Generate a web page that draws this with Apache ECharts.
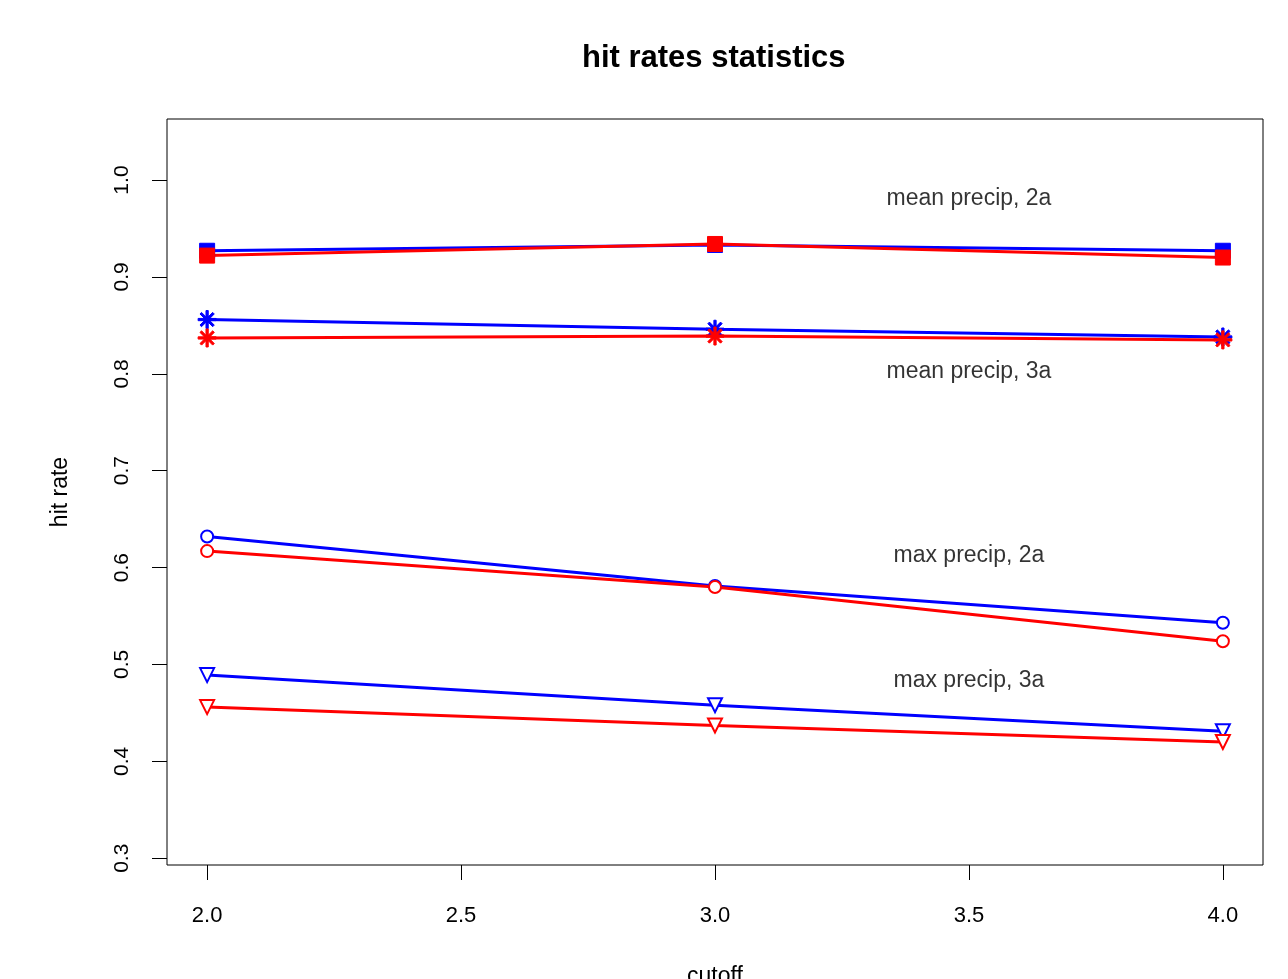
<!DOCTYPE html>
<html>
<head>
<meta charset="utf-8">
<script src="https://cdn.jsdelivr.net/npm/echarts@6/dist/echarts.min.js"></script>
<style>
  html, body { margin: 0; padding: 0; background: #fff; }
  #main { width: 1288px; height: 979px; }
</style>
</head>
<body>
<div id="main"></div>
<script>
var cutoff = [2.0, 3.0, 4.0];

// hit rates, blue = first set, red = second set
var meanPrecip2aBlue = [0.927, 0.933, 0.927];
var meanPrecip2aRed  = [0.922, 0.934, 0.920];
var meanPrecip3aBlue = [0.856, 0.846, 0.838];
var meanPrecip3aRed  = [0.837, 0.839, 0.835];
var maxPrecip2aBlue  = [0.632, 0.581, 0.543];
var maxPrecip2aRed   = [0.617, 0.580, 0.524];
var maxPrecip3aBlue  = [0.489, 0.458, 0.431];
var maxPrecip3aRed   = [0.456, 0.437, 0.420];

var xTicks = [2.0, 2.5, 3.0, 3.5, 4.0];
var yTicks = [0.3, 0.4, 0.5, 0.6, 0.7, 0.8, 0.9, 1.0];

var noteText = ['mean precip, 2a', 'mean precip, 3a', 'max precip, 2a', 'max precip, 3a'];
var noteX = [3.5, 3.5, 3.5, 3.5];
var noteY = [0.981, 0.802, 0.612, 0.483];

var starPath = 'path://M-1,-8L1,-8L1,8L-1,8Z M-8,-1L8,-1L8,1L-8,1Z ' +
  'M-4.95,-6.36L6.36,4.95L4.95,6.36L-6.36,-4.95Z ' +
  'M-6.36,4.95L4.95,-6.36L6.36,-4.95L-4.95,6.36Z';

function pairs(vals) {
  return cutoff.map(function (c, i) { return [c, vals[i]]; });
}

function line(vals, color, symbol, size, empty, rotate) {
  return {
    type: 'line',
    data: pairs(vals),
    symbol: symbol,
    symbolSize: size,
    symbolRotate: rotate || 0,
    showAllSymbol: true,
    lineStyle: { color: color, width: 3 },
    itemStyle: empty
      ? { color: color, borderColor: color, borderWidth: 2.5 }
      : { color: color, borderColor: color, borderWidth: 1 },
    emphasis: { disabled: true },
    z: 3
  };
}

var series = [
  line(meanPrecip2aBlue, '#0000ff', 'rect', 15, false),
  line(meanPrecip2aRed, '#ff0000', 'rect', 15, false),
  line(meanPrecip3aBlue, '#0000ff', starPath, 18, false),
  line(meanPrecip3aRed, '#ff0000', starPath, 18, false),
  line(maxPrecip2aBlue, '#0000ff', 'emptyCircle', 12, true),
  line(maxPrecip2aRed, '#ff0000', 'emptyCircle', 12, true),
  line(maxPrecip3aBlue, '#0000ff', 'emptyTriangle', 14, true, 180),
  line(maxPrecip3aRed, '#ff0000', 'emptyTriangle', 14, true, 180),
  {
    type: 'scatter',
    data: noteText.map(function (t, i) { return { value: [noteX[i], noteY[i]], name: t }; }),
    symbolSize: 1,
    itemStyle: { color: 'transparent' },
    label: {
      show: true,
      position: 'inside',
      formatter: '{b}',
      color: '#000',
      textBorderWidth: 0,
      fontSize: 23,
      fontFamily: 'Liberation Sans'
    },
    silent: true,
    z: 4
  }
];

var chart = echarts.init(document.getElementById('main'));
chart.setOption({
  animation: false,
  backgroundColor: '#fff',
  textStyle: { fontFamily: 'Liberation Sans' },
  title: {
    text: 'hit rates statistics',
    left: 582,
    top: 43,
    padding: 0,
    textStyle: { fontSize: 31, fontWeight: 'bold', color: '#000', fontFamily: 'Liberation Sans' }
  },
  grid: {
    left: 167, right: 25, top: 119, bottom: 114,
    containLabel: false,
    outerBoundsMode: 'none',
    show: true, borderColor: '#000', borderWidth: 1
  },
  xAxis: {
    type: 'value',
    min: 1.921, max: 4.079,
    name: 'cutoff',
    nameLocation: 'middle',
    nameGap: 100,
    nameTextStyle: { fontSize: 23, color: '#000' },
    axisLine: { show: false },
    splitLine: { show: false },
    axisTick: { show: true, inside: false, length: 15, customValues: xTicks, lineStyle: { color: '#000' } },
    axisLabel: {
      customValues: xTicks, margin: 40, fontSize: 22, color: '#000',
      formatter: function (v) { return v.toFixed(1); }
    }
  },
  yAxis: {
    type: 'value',
    min: 0.293, max: 1.063,
    name: 'hit rate',
    nameLocation: 'middle',
    nameGap: 95,
    nameRotate: 90,
    nameTextStyle: { fontSize: 23, color: '#000' },
    axisLine: { show: false },
    splitLine: { show: false },
    axisTick: { show: true, inside: false, length: 15, customValues: yTicks, lineStyle: { color: '#000' } },
    axisLabel: {
      customValues: yTicks, margin: 34, fontSize: 21, color: '#000', rotate: 90,
      formatter: function (v) { return v.toFixed(1); }
    }
  },
  series: series
});
</script>
</body>
</html>
